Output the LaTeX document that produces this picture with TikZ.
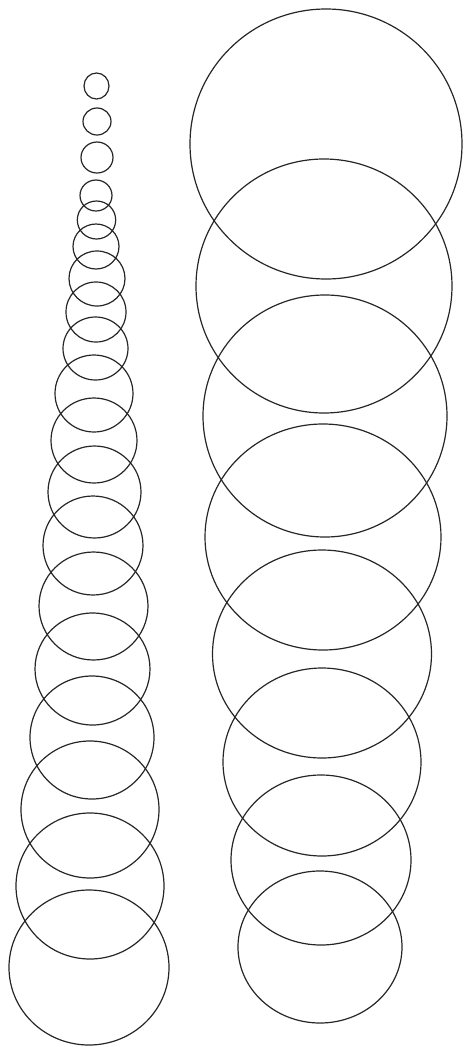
\documentclass[tikz,border=0pt]{standalone}
\usepackage{tikz}

\begin{document}
\begin{tikzpicture}[x=1pt, y=-1pt,
  ring/.style={draw=black!85, line width=1.2pt},
]
\useasboundingbox (0,0) rectangle (469,1047);

% === Left column: small rings growing downwards ===
\foreach \cx/\cy/\rx/\ry in {
    96.5/86/12.5/13, 97/121.5/14/13.5, 97/157.5/16/15.5, 96/195.5/16/15.5,
    96.5/220/19.2/19, 96/246.5/23/22.5, 97/278.5/28/27.5, 96/312/30/30,
    95.5/348.5/32.5/31.5, 94/393.5/39/38.5, 94/440.5/43/42.5,
    94.5/492/46.5/46, 93/545.5/50/49.5, 93.5/606/54.5/54,
    92.5/669/57.5/56, 92/737.5/62/61.5, 90/809.5/69/68.5,
    90/886/74/73, 89/967.5/80/77.5}
  \draw[ring] (\cx,\cy) ellipse [x radius=\rx, y radius=\ry];

% === Right column: large rings shrinking downwards ===
\foreach \cx/\cy/\rx/\ry in {
    326/144/136/135, 324/286/128/127, 325/416/122/121,
    323/537/118/113, 322/654/109.5/104, 322/762/99/94,
    321/860/90/85, 320/947/82/76}
  \draw[ring] (\cx,\cy) ellipse [x radius=\rx, y radius=\ry];

\end{tikzpicture}
\end{document}
